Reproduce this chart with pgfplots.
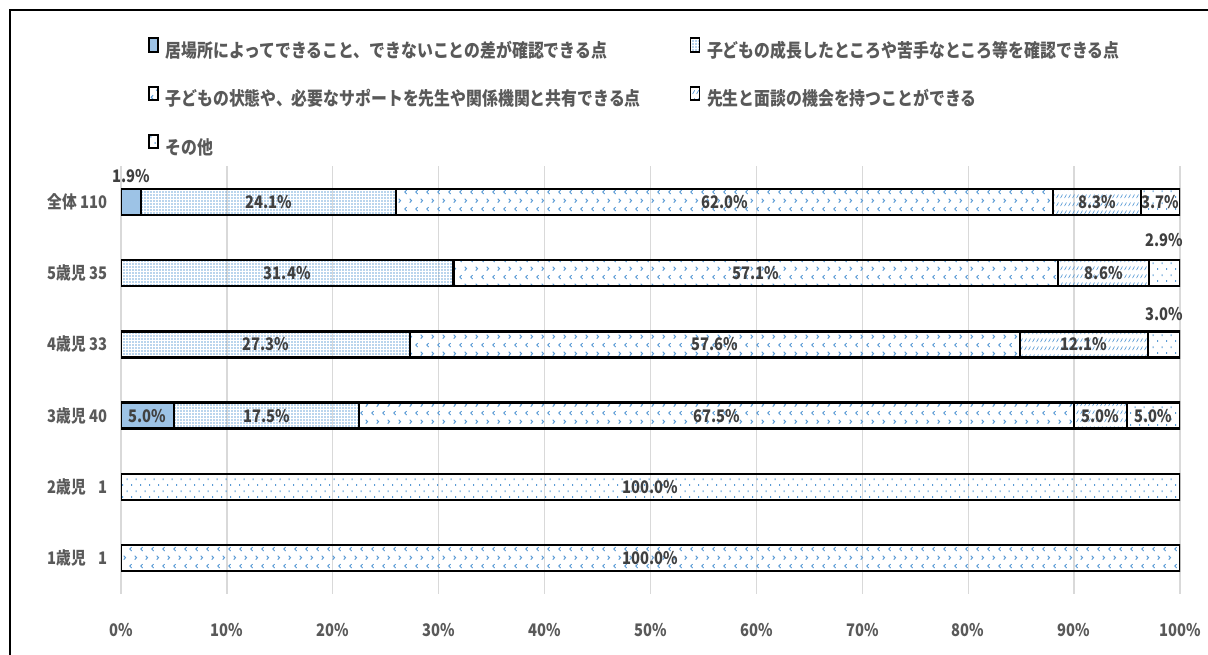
\documentclass[border=0pt]{standalone}
\usepackage{fontspec}
\setmainfont{Noto Sans CJK JP}[FakeStretch=0.85]
\usepackage{pgfplots}
\usepackage{pgfplotstable}
\pgfplotsset{compat=1.18}
\usetikzlibrary{patterns,patterns.meta}
\definecolor{cA}{HTML}{9DC3E6}
\definecolor{pB}{HTML}{5B9BD5}
\definecolor{txt}{HTML}{595959}
\definecolor{lbl}{HTML}{404040}
\definecolor{gridc}{HTML}{D9D9D9}

\tikzdeclarepattern{name=chev, type=uncolored,
  bounding box={(0,0) and (8pt,13pt)}, tile size={(8pt,13pt)},
  code={
    \draw[line width=0.75pt] (2.8pt,0.8pt) -- (1.4pt,2.3pt) -- (2.8pt,3.8pt);
    \draw[line width=0.75pt] (5.2pt,7.3pt) -- (6.6pt,8.8pt) -- (5.2pt,10.3pt);
  }}
\tikzdeclarepattern{name=dashdiag, type=uncolored,
  bounding box={(0,0) and (3pt,6pt)}, tile size={(3pt,6pt)},
  code={
    \draw[line width=0.6pt] (0.5pt,0.8pt) -- (2.3pt,3.8pt);
  }}
\tikzdeclarepattern{name=sparsedots, type=uncolored,
  bounding box={(0,0) and (7pt,9pt)}, tile size={(7pt,9pt)},
  code={
    \fill (1pt,1pt) rectangle (1.8pt,2.4pt);
    \fill (4.5pt,5.5pt) rectangle (5.3pt,6.9pt);
  }}
\tikzdeclarepattern{name=densedots, type=uncolored,
  bounding box={(0,0) and (2.2pt,2.2pt)}, tile size={(2.2pt,2.2pt)},
  code={
    \fill (0.2pt,0.2pt) rectangle (1.2pt,1.2pt);
  }}

% columns: y (row index), val (percent), dy (label lift, pt)
\pgfplotstableread{
y val dy
0 0 0
1 0 0
2 5.0 0
3 0 0
4 0 0
5 1.9 19.5
}\sA
\pgfplotstableread{
y val dy
0 0 0
1 0 0
2 17.5 0
3 27.3 0
4 31.4 0
5 24.1 0
}\sB
\pgfplotstableread{
y val dy
0 100 0
1 0 0
2 67.5 0
3 57.6 0
4 57.1 0
5 62.0 0
}\sC
\pgfplotstableread{
y val dy
0 0 0
1 0 0
2 5.0 0
3 12.1 0
4 8.6 0
5 8.3 0
}\sD
\pgfplotstableread{
y val dy
0 0 0
1 100 0
2 5.0 0
3 3.0 22.5
4 2.9 24.75
5 3.7 0
}\sE

\newcommand{\ylab}[2]{\makebox[45pt]{#1\hfill#2}}

\begin{document}
\begin{tikzpicture}
\useasboundingbox (0,0) rectangle (906pt,491.25pt);
\draw[line width=1.5pt] (7.5pt,0) -- (7.5pt,483.75pt) -- (906pt,483.75pt);
\begin{axis}[
  at={(90.75pt,46.05pt)}, anchor=south west,
  scale only axis, width=794.25pt, height=320.4pt,
  xbar stacked, bar width=0.365,
  xmin=0, xmax=100, ymin=-0.5, ymax=5.5,
  xtick={0,10,...,100},
  xticklabel={\pgfmathprintnumber{\tick}\%},
  /pgf/number format/assume math mode=true,
  ytick={0,1,2,3,4,5},
  yticklabels={\ylab{1歳児}{1},\ylab{2歳児}{1},\ylab{3歳児}{40},\ylab{4歳児}{33},\ylab{5歳児}{35},\ylab{全体}{110}},
  major tick length=0pt,
  axis line style={draw=none},
  xmajorgrids, grid style={gridc, line width=1pt},
  tick label style={font=\bfseries\fontsize{13}{15}\selectfont, text=txt},
  yticklabel style={inner sep=0pt, anchor=east, xshift=-9.75pt},
  xticklabel style={inner sep=0pt, anchor=center, yshift=-27pt},
  every axis plot/.append style={draw=black, line width=1.7pt},
  nodes near coords={\pgfmathfloatifflags{\pgfplotspointmeta}{0}{}{\pgfmathprintnumber[fixed,fixed zerofill,precision=1]{\pgfplotspointmeta}\%}},
  point meta=\thisrow{val},
  visualization depends on={\thisrow{dy} \as \dy},
  nodes near coords align=center,
  every node near coord/.append style={anchor=center, font=\bfseries\fontsize{13}{15}\selectfont, text=lbl, inner sep=0pt,
     yshift={\dy*1pt}},
  legend columns=2,
  legend cell align=left,
  legend style={at={(0.0255,1.302)}, anchor=north west, draw=none, fill=none,
     inner sep=0pt, outer sep=0pt, row sep=19pt, column sep=0pt,
     font=\bfseries\fontsize{14}{16}\selectfont, text=txt,
     nodes={inner sep=0pt, text height=12pt, text depth=2pt},
     /tikz/every odd column/.append style={column sep=5pt},
     /tikz/column 2/.append style={nodes={text width=393pt, align=left}}},
  legend image code/.code={\draw[#1, line width=1.4pt] (0pt,-0.5pt) rectangle (6.75pt,9.5pt);},
]
\addplot[fill=cA] table[x=val, y=y] {\sA};
\addplot[pattern={densedots}, pattern color=pB] table[x=val, y=y] {\sB};
\addplot[pattern={chev}, pattern color=pB] table[x=val, y=y] {\sC};
\addplot[pattern={dashdiag}, pattern color=pB] table[x=val, y=y] {\sD};
\addplot[pattern={sparsedots}, pattern color=pB] table[x=val, y=y] {\sE};
\legend{居場所によってできること、できないことの差が確認できる点,
        子どもの成長したところや苦手なところ等を確認できる点,
        子どもの状態や、必要なサポートを先生や関係機関と共有できる点,
        先生と面談の機会を持つことができる,
        その他}
\end{axis}
\end{tikzpicture}
\end{document}
